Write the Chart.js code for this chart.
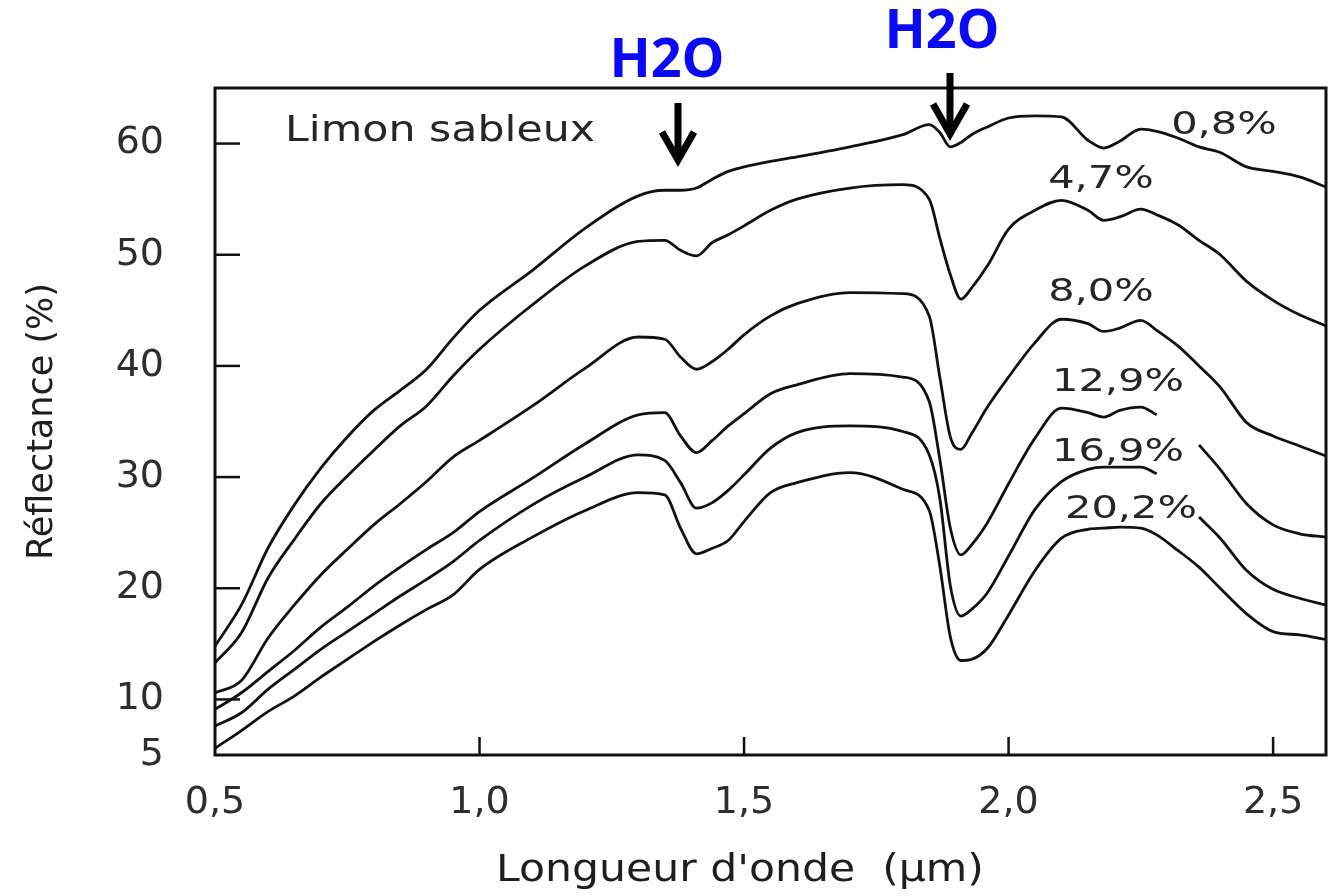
<!DOCTYPE html>
<html>
<head>
<meta charset="utf-8">
<script src="https://cdn.jsdelivr.net/npm/chart.js@4"></script>
<style>
  body { margin: 0; background: #fff; }
  #wrap { width: 1330px; height: 896px; }
</style>
</head>
<body>
<div id="wrap"><canvas id="chart"></canvas></div>
<script>
// wavelength (µm) shared by every curve
const wavelengths = [0.50, 0.55, 0.60, 0.65, 0.70, 0.75, 0.80, 0.85, 0.90, 0.95,
  1.00, 1.10, 1.20, 1.30, 1.35, 1.38, 1.41, 1.44, 1.47, 1.50,
  1.55, 1.60, 1.70, 1.80, 1.85, 1.87, 1.89, 1.91, 1.93, 1.96,
  2.00, 2.05, 2.10, 2.15, 2.18, 2.21, 2.25, 2.28, 2.32, 2.36,
  2.40, 2.45, 2.50, 2.55, 2.60];

// reflectance (%) per soil moisture content
const refl08 = [14.8, 18.5, 23.6, 27.5, 30.8, 33.6, 36.0, 37.8, 39.7, 42.5,
  45.0, 48.6, 52.4, 55.3, 55.8, 55.8, 56.0, 56.8, 57.5, 57.9,
  58.4, 58.8, 59.7, 60.8, 61.7, 61.0, 59.7, 60.1, 60.8, 61.5,
  62.3, 62.5, 62.4, 60.3, 59.6, 60.2, 61.3, 61.1, 60.5, 59.7,
  59.2, 57.9, 57.5, 57.0, 56.1];
const refl47 = [13.3, 16.0, 20.9, 24.4, 27.6, 30.1, 32.4, 34.6, 36.4, 39.1,
  41.5, 45.5, 49.0, 51.2, 51.3, 50.4, 49.9, 51.1, 51.8, 52.6,
  54.0, 55.0, 56.0, 56.3, 55.0, 51.5, 48.2, 46.0, 47.0, 49.0,
  52.3, 54.0, 54.9, 54.0, 53.1, 53.4, 54.1, 53.6, 52.7, 51.3,
  50.0, 47.6, 45.9, 44.6, 43.6];
const refl80 = [10.6, 11.7, 15.5, 18.5, 21.2, 23.5, 25.7, 27.6, 29.6, 31.8,
  33.3, 36.4, 39.8, 42.6, 42.4, 40.8, 39.7, 40.4, 41.5, 42.8,
  44.5, 45.6, 46.6, 46.5, 44.5, 39.0, 33.6, 32.5, 33.9, 36.3,
  39.0, 42.1, 44.2, 43.8, 43.1, 43.4, 44.1, 43.2, 41.8, 40.0,
  38.1, 34.9, 33.7, 32.8, 31.9];
const refl129 = [9.1, 10.6, 12.5, 14.4, 16.5, 18.3, 20.2, 21.9, 23.5, 25.0,
  26.9, 29.9, 33.0, 35.6, 35.8, 33.7, 32.2, 33.3, 34.6, 35.7,
  37.5, 38.3, 39.3, 39.0, 36.8, 31.6, 25.4, 23.0, 23.9, 25.9,
  29.4, 33.5, 36.2, 35.8, 35.4, 36.0, 36.3, 35.6, null, 32.9,
  30.7, 27.6, 25.7, 24.9, 24.6];
const refl169 = [7.6, 8.8, 10.9, 12.7, 14.5, 16.1, 17.7, 19.3, 20.8, 22.4,
  24.3, 27.5, 30.0, 32.0, 31.5, 29.5, 27.2, 27.7, 28.8, 30.2,
  32.6, 34.0, 34.6, 34.1, 32.0, 28.1, 20.2, 17.5, 18.1, 19.6,
  22.9, 27.1, 29.6, 30.7, 30.9, 30.9, 30.9, 30.3, null, 26.4,
  24.5, 21.6, 19.9, 19.1, 18.5];
const refl202 = [5.6, 7.2, 8.9, 10.3, 12.0, 13.6, 15.2, 16.7, 18.1, 19.4,
  21.7, 24.6, 27.0, 28.6, 28.4, 25.4, 23.1, 23.6, 24.3, 26.0,
  28.6, 29.5, 30.4, 28.9, 27.0, 22.0, 15.6, 13.5, 13.6, 14.6,
  17.6, 21.6, 24.5, 25.3, 25.4, 25.5, 25.4, 24.8, 23.4, 21.9,
  20.0, 17.7, 16.1, 15.8, 15.4];

const seriesNames = ['0,8%', '4,7%', '8,0%', '12,9%', '16,9%', '20,2%'];
const seriesValues = [refl08, refl47, refl80, refl129, refl169, refl202];

const xTicks = [0.5, 1.0, 1.5, 2.0, 2.5];
const yTicks = [5, 10, 20, 30, 40, 50, 60];

function drawText(ctx, text, x, y, font, color, sx) {
  ctx.save();
  ctx.font = font;
  ctx.fillStyle = color;
  ctx.textAlign = 'center';
  ctx.textBaseline = 'middle';
  ctx.translate(x, y);
  ctx.scale(sx, 1);
  ctx.fillText(text, 0, 0);
  ctx.restore();
}

function drawArrow(ctx, x, y0, y1, dx, dy) {
  ctx.save();
  ctx.strokeStyle = '#000';
  ctx.lineWidth = 7;
  ctx.lineCap = 'butt';
  ctx.beginPath();
  ctx.moveTo(x, y0);
  ctx.lineTo(x, y1 - 4);
  ctx.stroke();
  ctx.lineJoin = 'miter';
  ctx.beginPath();
  ctx.moveTo(x - dx, y1 - dy);
  ctx.lineTo(x, y1 - 3);
  ctx.lineTo(x + dx, y1 - dy);
  ctx.stroke();
  ctx.restore();
}

const framePlugin = {
  id: 'frame',
  afterDraw(chart) {
    const { ctx, chartArea: a, scales } = chart;
    ctx.save();
    ctx.strokeStyle = '#111';
    ctx.lineWidth = 3;
    ctx.strokeRect(a.left, a.top, a.right - a.left, a.bottom - a.top);

    // inward ticks
    ctx.lineWidth = 2.5;
    yTicks.filter(v => v > 5).forEach(v => {
      const py = scales.y.getPixelForValue(v);
      ctx.beginPath();
      ctx.moveTo(a.left, py);
      ctx.lineTo(a.left + 25, py);
      ctx.stroke();
    });
    xTicks.filter(v => v > 0.5).forEach(v => {
      const px = scales.x.getPixelForValue(v);
      ctx.beginPath();
      ctx.moveTo(px, a.bottom);
      ctx.lineTo(px, a.bottom - 18);
      ctx.stroke();
    });
    ctx.restore();

    // curve labels
    const labelPos = [[1224, 126], [1101, 180], [1101, 293], [1118, 383], [1118, 453], [1131, 510]];
    seriesNames.forEach((name, i) => {
      drawText(ctx, name, labelPos[i][0], labelPos[i][1], '32px "DejaVu Sans"', '#262626', 1.3);
    });

    drawText(ctx, 'Limon sableux', 440, 132, '35px "DejaVu Sans"', '#262626', 1.22);
    drawText(ctx, 'Longueur d\'onde  (µm)', 740, 871, '37px "DejaVu Sans"', '#1e1e1e', 1.15);

    // water absorption bands
    drawText(ctx, 'H2O', 667, 62, 'bold 54px "Open Sans"', '#0a0af5', 1);
    drawText(ctx, 'H2O', 942, 33, 'bold 54px "Open Sans"', '#0a0af5', 1);
    drawArrow(ctx, 678, 103, 163, 16, 31);
    drawArrow(ctx, 950, 73, 137, 17, 33);
  }
};

const datasets = seriesValues.map((vals, i) => ({
  label: seriesNames[i],
  data: wavelengths.map((w, j) => ({ x: w, y: vals[j] })),
  borderColor: '#111',
  backgroundColor: '#111',
  borderWidth: 2.8,
  pointRadius: 0,
  fill: false,
  spanGaps: false,
  cubicInterpolationMode: 'monotone'
}));

new Chart(document.getElementById('chart'), {
  type: 'line',
  data: { datasets },
  options: {
    responsive: true,
    maintainAspectRatio: false,
    animation: false,
    layout: { padding: { top: 88, right: 4, left: 0, bottom: 0 } },
    plugins: { legend: { display: false }, tooltip: { enabled: false } },
    scales: {
      x: {
        type: 'linear',
        min: 0.5,
        max: 2.6,
        grid: { display: false, drawTicks: false },
        border: { display: false },
        afterBuildTicks: s => { s.ticks = xTicks.map(v => ({ value: v })); },
        afterFit: s => { s.height = 141; },
        ticks: {
          padding: 25,
          color: '#2e2e2e',
          font: { family: 'DejaVu Sans', size: 38 },
          maxRotation: 0,
          callback: v => v.toFixed(1).replace('.', ',')
        }
      },
      y: {
        type: 'linear',
        min: 5,
        max: 65,
        grid: { display: false, drawTicks: false },
        border: { display: false },
        afterBuildTicks: s => { s.ticks = yTicks.map(v => ({ value: v })); },
        afterFit: s => { s.width = 215; },
        ticks: {
          padding: 51,
          color: '#2e2e2e',
          font: { family: 'DejaVu Sans', size: 38 }
        },
        title: {
          display: true,
          text: 'Réflectance (%)',
          color: '#1e1e1e',
          font: { family: 'DejaVu Sans', size: 35 },
          padding: { top: 22, bottom: 0 }
        }
      }
    }
  },
  plugins: [framePlugin]
});
</script>
</body>
</html>
